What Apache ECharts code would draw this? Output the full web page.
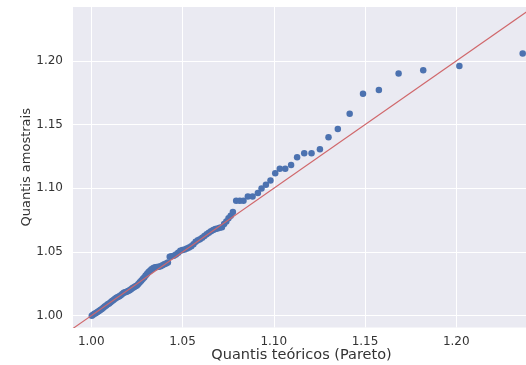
<!DOCTYPE html>
<html>
<head>
<meta charset="utf-8">
<script src="https://cdn.jsdelivr.net/npm/echarts@6/dist/echarts.min.js"></script>
<style>
  html, body { margin: 0; padding: 0; background: #ffffff; }
  #chart { width: 526px; height: 365px; }
</style>
</head>
<body>
<div id="chart"></div>
<script>
// Theoretical Pareto quantiles (x) and ordered sample quantiles (y)
const theoretical = [
  1.0003, 1.0010, 1.0018, 1.0026, 1.0034, 1.0042, 1.0050, 1.0058, 1.0066, 1.0074,
  1.0082, 1.0090, 1.0098, 1.0106, 1.0114, 1.0122, 1.0130, 1.0138, 1.0146, 1.0154,
  1.0162, 1.0170, 1.0178, 1.0186, 1.0194, 1.0202, 1.0210, 1.0218, 1.0226, 1.0234,
  1.0242, 1.0250, 1.0258, 1.0266, 1.0274, 1.0282, 1.0290, 1.0298, 1.0306, 1.0314,
  1.0322, 1.0330, 1.0340, 1.0350, 1.0360, 1.0370, 1.0380, 1.0390, 1.0400, 1.0410,
  1.0420, 1.0430, 1.0440, 1.0452, 1.0464, 1.0476, 1.0488, 1.0500, 1.0512, 1.0524,
  1.0536, 1.0548, 1.0560, 1.0572, 1.0584, 1.0596, 1.0608, 1.0620, 1.0632, 1.0644,
  1.0656, 1.0668, 1.0680, 1.0692, 1.0704, 1.0716, 1.0728, 1.0740, 1.0752, 1.0764,
  1.0776, 1.0794, 1.0814, 1.0834, 1.0858, 1.0884,
  1.0913, 1.0933, 1.0957, 1.0982, 1.1008, 1.1033, 1.1063, 1.1095, 1.1128, 1.1167,
  1.1207, 1.1253, 1.1300, 1.1351, 1.1416, 1.1489, 1.1576, 1.1684, 1.1819, 1.2017,
  1.2364
];
const sample = [
  1.0000, 1.0008, 1.0015, 1.0020, 1.0028, 1.0036, 1.0045, 1.0052, 1.0062, 1.0072,
  1.0080, 1.0090, 1.0096, 1.0106, 1.0115, 1.0122, 1.0132, 1.0140, 1.0146, 1.0152,
  1.0160, 1.0170, 1.0180, 1.0184, 1.0188, 1.0194, 1.0200, 1.0208, 1.0218, 1.0224,
  1.0230, 1.0236, 1.0248, 1.0262, 1.0275, 1.0288, 1.0300, 1.0315, 1.0330, 1.0342,
  1.0352, 1.0365, 1.0375, 1.0380, 1.0382, 1.0384, 1.0388, 1.0395, 1.0403, 1.0410,
  1.0418, 1.0462, 1.0466, 1.0470, 1.0480, 1.0495, 1.0510, 1.0515, 1.0520, 1.0528,
  1.0535, 1.0545, 1.0560, 1.0580, 1.0592, 1.0600, 1.0612, 1.0625, 1.0640, 1.0652,
  1.0662, 1.0672, 1.0680, 1.0685, 1.0690, 1.0695, 1.0720, 1.0740, 1.0765, 1.0785,
  1.0815, 1.0903, 1.0903, 1.0903, 1.0935, 1.0935,
  1.0964, 1.0998, 1.1029, 1.1061, 1.1118, 1.1153, 1.1153, 1.1184, 1.1244, 1.1276,
  1.1276, 1.1307, 1.1402, 1.1465, 1.1586, 1.1743, 1.1772, 1.1901, 1.1927, 1.1961,
  1.2058
];
// Tick labels on both axes
const xTicks = [1.00, 1.05, 1.10, 1.15, 1.20];
const yTicks = [1.00, 1.05, 1.10, 1.15, 1.20];
// Axis extents
const xRange = [0.990, 1.2404];
const yRange = [0.9907, 1.2424];
// Reference line y = x across the x extent
const refLine = [[xRange[0], xRange[0]], [xRange[1], xRange[1]]];

const points = theoretical.map((x, i) => [x, sample[i]]);

const chart = echarts.init(document.getElementById('chart'), null, { renderer: 'canvas' });
const font = 'DejaVu Sans';
chart.setOption({
  animation: false,
  backgroundColor: '#ffffff',
  grid: {
    left: 73, top: 7, right: -4, bottom: 37.5,
    outerBoundsMode: 'none', containLabel: false,
    show: true, backgroundColor: '#EAEAF2', borderWidth: 0
  },
  xAxis: {
    type: 'value', min: xRange[0], max: xRange[1],
    name: 'Quantis teóricos (Pareto)', nameLocation: 'middle', nameGap: 20,
    nameMoveOverlap: false,
    nameTextStyle: { fontFamily: font, fontSize: 14.5, color: '#333333' },
    axisLine: { show: false },
    axisTick: { show: false, customValues: xTicks },
    axisLabel: {
      customValues: xTicks, margin: 8,
      fontFamily: font, fontSize: 12, color: '#333333',
      formatter: v => v.toFixed(2)
    },
    splitLine: { show: true, lineStyle: { color: '#ffffff', width: 1 } }
  },
  yAxis: {
    type: 'value', min: yRange[0], max: yRange[1],
    name: 'Quantis amostrais', nameLocation: 'middle', nameGap: 40, nameRotate: 90,
    nameMoveOverlap: false,
    nameTextStyle: { fontFamily: font, fontSize: 13, color: '#333333' },
    axisLine: { show: false },
    axisTick: { show: false, customValues: yTicks },
    axisLabel: {
      customValues: yTicks, margin: 10,
      fontFamily: font, fontSize: 12, color: '#333333',
      formatter: v => v.toFixed(2)
    },
    splitLine: { show: true, lineStyle: { color: '#ffffff', width: 1 } }
  },
  series: [
    {
      type: 'scatter', data: points, symbolSize: 6.5, z: 2,
      itemStyle: { color: '#4C72B0', opacity: 1 }
    },
    {
      type: 'line', data: refLine, symbol: 'none', z: 3, clip: true,
      lineStyle: { color: '#D0676B', width: 1.2 }
    }
  ]
});
</script>
</body>
</html>
